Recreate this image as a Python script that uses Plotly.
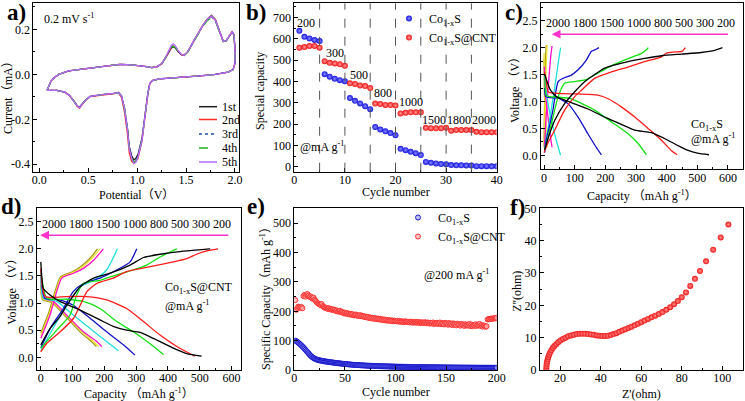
import plotly.graph_objects as go

W, H = 745, 401
SERIF = "Liberation Serif, Noto Sans CJK SC, serif"

# ---------------- (a) CV curves ----------------
cv_voltage = [0.08, 0.12, 0.16, 0.20, 0.25, 0.30, 0.40, 0.50, 0.60, 0.70, 0.82, 0.90, 1.00, 1.06, 1.11,
              1.15, 1.20, 1.25, 1.29, 1.33, 1.35, 1.37, 1.39, 1.42, 1.45, 1.48, 1.52, 1.57, 1.62, 1.67,
              1.72, 1.76, 1.80, 1.84, 1.88, 1.91, 1.94, 1.97, 1.99, 2.00,
              2.00, 1.98, 1.93, 1.80, 1.67, 1.50, 1.33, 1.23, 1.16, 1.13, 1.11, 1.08, 1.05, 1.01, 0.985,
              0.965, 0.945, 0.92, 0.90, 0.87, 0.84, 0.81, 0.76, 0.62, 0.52, 0.47, 0.43, 0.41, 0.39, 0.36,
              0.31, 0.26, 0.18, 0.08]
cv_current_1st = [-0.071, -0.030, -0.012, 0.000, 0.008, 0.015, 0.021, 0.026, 0.031, 0.036, 0.044, 0.043, 0.040, 0.037, 0.033,
                  0.030, 0.033, 0.046, 0.072, 0.106, 0.118, 0.122, 0.117, 0.100, 0.088, 0.084, 0.101, 0.141, 0.180, 0.217,
                  0.247, 0.262, 0.243, 0.192, 0.147, 0.149, 0.170, 0.189, 0.176, 0.107,
                  0.050, 0.021, 0.010, 0.000, -0.006, -0.012, -0.016, -0.020, -0.027, -0.040, -0.082, -0.185, -0.282, -0.355, -0.375,
                  -0.380, -0.362, -0.322, -0.235, -0.148, -0.096, -0.081, -0.085, -0.091, -0.098, -0.115, -0.138, -0.146, -0.141, -0.121,
                  -0.094, -0.079, -0.071, -0.071]
cv_current_2nd = [-0.071, -0.030, -0.012, 0.000, 0.008, 0.015, 0.021, 0.026, 0.031, 0.036, 0.044, 0.043, 0.040, 0.037, 0.033,
                  0.030, 0.033, 0.047, 0.074, 0.109, 0.122, 0.126, 0.121, 0.103, 0.089, 0.085, 0.102, 0.142, 0.181, 0.217,
                  0.246, 0.259, 0.241, 0.191, 0.146, 0.150, 0.171, 0.190, 0.175, 0.107,
                  0.050, 0.021, 0.010, 0.000, -0.006, -0.012, -0.016, -0.020, -0.027, -0.041, -0.088, -0.195, -0.295, -0.372, -0.390,
                  -0.394, -0.388, -0.350, -0.262, -0.165, -0.102, -0.083, -0.086, -0.092, -0.099, -0.118, -0.143, -0.150, -0.144, -0.123,
                  -0.095, -0.079, -0.071, -0.071]
cv_current_3rd = [-0.071, -0.030, -0.012, 0.000, 0.008, 0.015, 0.021, 0.026, 0.031, 0.036, 0.044, 0.043, 0.040, 0.037, 0.033,
                  0.030, 0.033, 0.047, 0.074, 0.110, 0.124, 0.128, 0.123, 0.103, 0.089, 0.085, 0.102, 0.142, 0.180, 0.215,
                  0.243, 0.256, 0.238, 0.189, 0.146, 0.150, 0.171, 0.190, 0.175, 0.107,
                  0.050, 0.021, 0.010, 0.000, -0.006, -0.012, -0.016, -0.020, -0.027, -0.040, -0.084, -0.188, -0.287, -0.362, -0.385,
                  -0.388, -0.370, -0.328, -0.238, -0.149, -0.096, -0.081, -0.085, -0.091, -0.098, -0.116, -0.140, -0.147, -0.142, -0.122,
                  -0.094, -0.079, -0.071, -0.071]
cv_current_4th = [-0.071, -0.030, -0.012, 0.000, 0.008, 0.015, 0.021, 0.026, 0.031, 0.036, 0.044, 0.043, 0.040, 0.037, 0.033,
                  0.030, 0.033, 0.047, 0.073, 0.108, 0.121, 0.124, 0.120, 0.102, 0.088, 0.084, 0.101, 0.140, 0.178, 0.212,
                  0.240, 0.252, 0.236, 0.188, 0.145, 0.149, 0.170, 0.189, 0.175, 0.107,
                  0.050, 0.021, 0.010, 0.000, -0.006, -0.012, -0.016, -0.020, -0.027, -0.040, -0.085, -0.189, -0.289, -0.364, -0.387,
                  -0.390, -0.372, -0.329, -0.239, -0.150, -0.096, -0.081, -0.085, -0.091, -0.098, -0.116, -0.140, -0.148, -0.142, -0.122,
                  -0.094, -0.079, -0.071, -0.071]
cv_current_5th = [-0.071, -0.030, -0.012, 0.000, 0.008, 0.015, 0.021, 0.026, 0.031, 0.036, 0.044, 0.043, 0.040, 0.037, 0.033,
                  0.030, 0.033, 0.048, 0.075, 0.112, 0.130, 0.136, 0.128, 0.105, 0.090, 0.085, 0.103, 0.143, 0.181, 0.217,
                  0.246, 0.259, 0.240, 0.190, 0.146, 0.150, 0.172, 0.190, 0.175, 0.107,
                  0.050, 0.021, 0.010, 0.000, -0.006, -0.012, -0.016, -0.020, -0.027, -0.040, -0.085, -0.190, -0.290, -0.367, -0.392,
                  -0.397, -0.375, -0.330, -0.240, -0.150, -0.096, -0.081, -0.085, -0.091, -0.098, -0.116, -0.140, -0.148, -0.142, -0.122,
                  -0.094, -0.079, -0.071, -0.071]
cv_cycle_names = ["1st", "2nd", "3rd", "4th", "5th"]
cv_colors = ["#222222", "#ff2a2a", "#1f4fa8", "#22b022", "#b36bff"]
cv_dashes = ["solid", "solid", "dot", "dash", "solid"]

# ---------------- (b) rate capability ----------------
b_cycles = list(range(1, 41))
b_cos = [637, 609, 601, 594, 589, 434, 422, 412, 406, 401,
         322, 309, 297, 284, 270, 186, 175, 166, 158, 148,
         84, 78, 70, 64, 55, 23, 19, 16, 13, 12,
         8, 7, 7, 6, 6, 3, 3, 3, 2, 2]
b_cnt = [558, 561, 566, 566, 558, 495, 487, 484, 480, 473,
         391, 388, 381, 378, 369, 296, 294, 290, 289, 287,
         250, 253, 255, 255, 255, 183, 181, 180, 181, 183,
         169, 172, 172, 172, 172, 164, 162, 162, 162, 162]
b_rate_boundaries = [5, 10, 15, 20, 25, 30, 35]
b_rate_text = ["200", "300", "500", "800", "1000", "1500", "1800", "2000"]
b_rate_text_x = [2.4, 8.1, 12.7, 17.6, 23.0, 27.6, 32.6, 37.4]
b_rate_text_y = [675, 531, 430, 344, 305, 219, 219, 219]

# ---------------- (c) Co1-xS charge/discharge ----------------
rates = [200, 300, 500, 800, 1000, 1500, 1800, 2000]
rate_colors = ["#000000", "#ff1a1a", "#11e011", "#1010c8", "#20e0e0", "#ff10c8", "#f0e030", "#a09a10"]
c_cap_200 = [2, 8, 20, 40, 89, 143, 198, 250, 296, 350, 404, 440, 470, 500, 538, None,
             2, 15, 35, 67, 100, 133, 170, 198, 274, 328, 383, 448, 513, 557, 582]
c_volt_200 = [1.50, 1.40, 1.22, 1.09, 0.98, 0.86, 0.71, 0.58, 0.47, 0.42, 0.28, 0.17, 0.09, 0.04, 0.01, None,
              0.10, 0.35, 0.65, 0.96, 1.18, 1.37, 1.52, 1.62, 1.74, 1.80, 1.85, 1.88, 1.91, 1.95, 2.00]
c_cap_300 = [2, 7, 13, 46, 111, 176, 209, 252, 296, 339, 383, 415, 434, None,
             0, 10, 35, 67, 100, 122, 165, 220, 274, 328, 383, 399, 426, 450, 461]
c_volt_300 = [1.55, 1.40, 1.18, 1.15, 1.14, 1.12, 1.05, 0.90, 0.71, 0.50, 0.28, 0.09, 0.01, None,
              0.05, 0.20, 0.47, 0.84, 1.09, 1.21, 1.43, 1.55, 1.64, 1.74, 1.83, 1.90, 1.92, 1.93, 2.00]
c_cap_500 = [3, 7, 18, 46, 89, 120, 165, 220, 274, 307, 334, None,
             2, 24, 46, 67, 100, 133, 165, 208, 250, 290, 317, 334, 340]
c_volt_500 = [1.50, 1.12, 1.09, 1.08, 1.05, 0.97, 0.84, 0.62, 0.40, 0.22, 0.01, None,
              0.09, 0.59, 1.09, 1.34, 1.37, 1.40, 1.49, 1.63, 1.74, 1.83, 1.89, 1.96, 2.00]
c_cap_800 = [2, 5, 20, 46, 78, 111, 143, 170, 187, None,
             2, 7, 18, 29, 46, 62, 89, 111, 138, 154, 170, 179]
c_volt_800 = [1.25, 1.09, 1.07, 1.06, 0.96, 0.71, 0.40, 0.15, 0.01, None,
              0.05, 0.28, 0.55, 0.84, 1.37, 1.43, 1.49, 1.59, 1.77, 1.93, 1.97, 2.00]
c_cap_1000 = [2, 5, 13, 29, 46, 54, None, 2, 8, 18, 35, 46, 54]
c_volt_1000 = [1.50, 1.30, 0.96, 0.53, 0.15, 0.00, None, 0.09, 0.35, 0.65, 1.27, 1.71, 2.00]
c_cap_1500 = [1, 3, 8, 15, 22, 26, None, 1, 5, 10, 16, 22, 26]
c_volt_1500 = [1.65, 1.25, 0.95, 0.60, 0.30, 0.15, None, 0.15, 0.55, 1.00, 1.45, 1.85, 2.03]
c_cap_1800 = [0, 2, 4, 7, 10, None, 0, 2, 4, 7, 10]
c_volt_1800 = [1.90, 1.30, 0.90, 0.45, 0.15, None, 0.15, 0.60, 1.20, 1.70, 2.05]
c_cap_2000 = [0, 1, 3, 5, 7, None, 0, 1, 3, 5, 7]
c_volt_2000 = [1.80, 1.20, 0.80, 0.40, 0.20, None, 0.20, 0.70, 1.30, 1.80, 2.05]
c_caps = [c_cap_200, c_cap_300, c_cap_500, c_cap_800, c_cap_1000, c_cap_1500, c_cap_1800, c_cap_2000]
c_volts = [c_volt_200, c_volt_300, c_volt_500, c_volt_800, c_volt_1000, c_volt_1500, c_volt_1800, c_volt_2000]
c_arrow_cap = [605, 25]

# ---------------- (d) Co1-xS@CNT charge/discharge ----------------
d_cap_200 = [0, 3, 8, 29, 60, 124, 186, 228, 270, 312, 354, 417, 459, 506, None,
             0, 29, 60, 82, 124, 166, 218, 281, 323, 375, 438, 533]
d_volt_200 = [1.76, 1.50, 1.27, 1.15, 1.03, 0.87, 0.69, 0.57, 0.50, 0.46, 0.35, 0.17, 0.07, 0.02, None,
              0.23, 0.53, 0.75, 0.96, 1.30, 1.46, 1.55, 1.70, 1.84, 1.90, 1.95, 2.00]
d_cap_300 = [0, 14, 81, 144, 207, 270, 323, 375, 428, 485, None,
             0, 19, 61, 103, 124, 145, 176, 228, 270, 344, 417, 459, 490, 522, 558]
d_volt_300 = [1.64, 1.12, 1.12, 1.12, 1.06, 0.90, 0.66, 0.41, 0.20, 0.02, None,
              0.10, 0.26, 0.47, 0.72, 0.96, 1.21, 1.36, 1.46, 1.58, 1.67, 1.76, 1.82, 1.90, 1.96, 2.00]
d_cap_500 = [3, 19, 81, 134, 186, 239, 291, 344, 386, None,
             0, 50, 92, 113, 134, 186, 239, 291, 333, 375, 428]
d_volt_500 = [1.46, 1.09, 1.07, 1.03, 0.90, 0.66, 0.47, 0.25, 0.05, None,
              0.17, 0.50, 0.78, 1.15, 1.36, 1.42, 1.52, 1.61, 1.70, 1.85, 2.00]
d_cap_800 = [3, 13, 60, 102, 155, 207, 260, 296, None,
             0, 29, 71, 102, 134, 186, 239, 281, 302]
d_volt_800 = [1.33, 1.09, 1.06, 0.96, 0.72, 0.47, 0.23, 0.04, None,
              0.17, 0.53, 0.90, 1.21, 1.36, 1.46, 1.61, 1.76, 2.00]
d_cap_1000 = [0, 8, 50, 102, 155, 207, 244, None, 0, 40, 81, 124, 166, 207, 241]
d_volt_1000 = [1.58, 1.09, 1.03, 0.78, 0.53, 0.29, 0.12, None, 0.12, 0.55, 0.95, 1.30, 1.42, 1.61, 2.00]
d_cap_1500 = [0, 8, 40, 81, 134, 176, 192, None, 0, 29, 50, 66, 103, 134, 166, 197]
d_volt_1500 = [1.52, 1.09, 1.03, 0.78, 0.47, 0.29, 0.20, None, 0.35, 0.78, 1.21, 1.46, 1.55, 1.64, 1.79, 2.00]
d_cap_1800 = [0, 6, 38, 78, 130, 170, 182, None, 0, 27, 48, 64, 100, 130, 160, 186]
d_volt_1800 = [1.55, 1.08, 1.02, 0.78, 0.47, 0.27, 0.20, None, 0.40, 0.80, 1.22, 1.47, 1.56, 1.66, 1.82, 2.00]
d_cap_2000 = [0, 5, 35, 75, 125, 165, 175, None, 0, 25, 46, 62, 97, 127, 157, 178]
d_volt_2000 = [1.60, 1.07, 1.01, 0.77, 0.46, 0.26, 0.20, None, 0.45, 0.82, 1.24, 1.48, 1.57, 1.68, 1.84, 2.00]
d_caps = [d_cap_200, d_cap_300, d_cap_500, d_cap_800, d_cap_1000, d_cap_1500, d_cap_1800, d_cap_2000]
d_volts = [d_volt_200, d_volt_300, d_volt_500, d_volt_800, d_volt_1000, d_volt_1500, d_volt_1800, d_volt_2000]
d_arrow_cap = [595, -2]
rate_label_text = "2000 1800 1500 1000 800 500 300 200"

# ---------------- (e) cycling at 200 mA/g ----------------
e_cycles = list(range(1, 201))
e_cnt = [238, 205, 211, 216, 214, 212, 215, 210, 252, 256,
         250, 257, 259, 253, 249, 251, 246, 243, 247, 240,
         236, 232, 228, 226, 223, 221, 225, 218, 215, 212,
         213, 210, 208, 211, 207, 208, 205, 207, 204, 205,
         201, 203, 199, 200, 202, 197, 198, 195, 193, 196,
         192, 194, 190, 192, 189, 191, 188, 190, 186, 187,
         189, 185, 186, 184, 187, 183, 185, 182, 183, 180,
         182, 179, 181, 177, 179, 176, 178, 175, 177, 174,
         176, 173, 175, 172, 174, 171, 173, 170, 172, 169,
         171, 168, 170, 168, 169, 167, 169, 166, 168, 167,
         166, 168, 165, 167, 164, 166, 165, 163, 166, 164,
         165, 163, 164, 162, 165, 163, 161, 164, 162, 163,
         161, 164, 162, 160, 163, 161, 162, 160, 163, 161,
         159, 162, 160, 158, 161, 159, 162, 157, 160, 158,
         161, 157, 159, 162, 156, 160, 158, 155, 161, 157,
         159, 154, 160, 156, 158, 153, 159, 155, 157, 152,
         158, 154, 156, 151, 157, 153, 155, 150, 156, 152,
         154, 151, 157, 150, 155, 149, 153, 151, 156, 150,
         154, 152, 157, 150, 153, 148, 152, 150, 147, 149,
         172, 174, 173, 175, 174, 176, 175, 177, 176, 178]
e_cos = [100, 98, 96, 93, 90, 87, 84, 80, 77, 73,
         69, 65, 61, 57, 53, 49, 46, 43, 41, 39,
         37, 36, 35, 34, 33, 32, 31.5, 31, 30, 29.5,
         29, 28.5, 28, 27.5, 27, 26.5, 26, 25.5, 25, 24.5,
         24, 23.6, 23.2, 22.8, 22.4, 22, 21.6, 21.2, 20.8, 20.4,
         20, 19.7, 19.4, 19.1, 18.8, 18.5, 18.2, 17.9, 17.6, 17.3,
         17, 16.8, 16.6, 16.4, 16.2, 16, 15.8, 15.6, 15.4, 15.2,
         15, 14.8, 14.7, 14.5, 14.4, 14.2, 14.1, 13.9, 13.8, 13.6,
         13.5, 13.4, 13.2, 13.1, 13, 12.9, 12.8, 12.6, 12.5, 12.4,
         12.3, 12.2, 12.1, 12, 11.9, 11.8, 11.7, 11.6, 11.5, 11.4,
         11.3, 11.2, 11.1, 11, 11, 10.9, 10.8, 10.7, 10.7, 10.6,
         10.5, 10.5, 10.4, 10.3, 10.3, 10.2, 10.1, 10.1, 10, 10,
         9.9, 9.9, 9.8, 9.8, 9.7, 9.7, 9.6, 9.6, 9.5, 9.5,
         9.4, 9.4, 9.3, 9.3, 9.2, 9.2, 9.2, 9.1, 9.1, 9,
         9, 9, 8.9, 8.9, 8.9, 8.8, 8.8, 8.8, 8.7, 8.7,
         8.7, 8.6, 8.6, 8.6, 8.5, 8.5, 8.5, 8.4, 8.4, 8.4,
         8.3, 8.3, 8.3, 8.3, 8.2, 8.2, 8.2, 8.2, 8.1, 8.1,
         8.1, 8.1, 8, 8, 8, 8, 7.9, 7.9, 7.9, 7.9,
         7.8, 7.8, 7.8, 7.8, 7.8, 7.7, 7.7, 7.7, 7.7, 7.7,
         7.6, 7.6, 7.6, 7.6, 7.6, 7.5, 7.5, 7.5, 7.5, 7.5]

# ---------------- (f) Nyquist ----------------
f_zre = [13.2, 13.3, 13.4, 13.6, 13.9, 14.2, 14.6, 15.1, 15.7, 16.4, 17.2, 18.1, 19.1, 20.2, 21.4,
         22.7, 24.0, 25.4, 26.8, 28.2, 29.6, 31.0, 32.4, 33.8, 35.2, 36.6, 38.0, 39.4, 40.8, 42.2,
         43.6, 45.0, 46.4, 47.8, 49.2, 50.7, 52.2, 53.7, 55.2, 56.8, 58.4, 60.0, 61.7, 63.4, 65.1,
         66.9, 68.7, 70.5, 72.4, 74.3, 76.2, 78.1, 80.0, 82.1, 84.2, 86.5, 89.0, 92.0, 95.5, 99.2, 103.0]
f_zim = [0.5, 1.2, 1.9, 2.6, 3.3, 4.0, 4.7, 5.4, 6.1, 6.8, 7.4, 8.0, 8.6, 9.1, 9.6,
         10.0, 10.4, 10.7, 10.9, 11.1, 11.2, 11.2, 11.2, 11.1, 11.0, 10.9, 10.7, 10.6, 10.5, 10.5,
         10.6, 10.8, 11.1, 11.4, 11.8, 12.2, 12.6, 13.0, 13.4, 13.8, 14.3, 14.8, 15.3, 15.8, 16.3,
         16.8, 17.3, 17.9, 18.6, 19.4, 20.3, 21.3, 22.5, 24.0, 26.0, 28.2, 30.6, 33.6, 37.2, 41.0, 45.0]

# ---------------- figure ----------------
fig = go.Figure()

for name, cur, col, dash in zip(cv_cycle_names,
                                [cv_current_1st, cv_current_2nd, cv_current_3rd, cv_current_4th, cv_current_5th],
                                cv_colors, cv_dashes):
    fig.add_trace(go.Scatter(x=cv_voltage, y=cur, mode="lines", name=name, showlegend=False,
                             line=dict(color=col, width=1.3, dash=dash), xaxis="x", yaxis="y"))

fig.add_trace(go.Scatter(x=b_cycles, y=b_cos, mode="markers", name="Co<sub>1-x</sub>S",
                         marker=dict(size=6, color="#1515e0", gradient=dict(type="radial", color="#8a8aff")),
                         xaxis="x2", yaxis="y2", legend="legend"))
fig.add_trace(go.Scatter(x=b_cycles, y=b_cnt, mode="markers", name="Co<sub>1-x</sub>S@CNT",
                         marker=dict(size=6, color="#f01515", gradient=dict(type="radial", color="#ff9a9a")),
                         xaxis="x2", yaxis="y2", legend="legend"))

for cap, volt, col in zip(c_caps[::-1], c_volts[::-1], rate_colors[::-1]):
    fig.add_trace(go.Scatter(x=cap, y=volt, mode="lines", showlegend=False, connectgaps=False,
                             line=dict(color=col, width=1.3, shape="spline", smoothing=0.6),
                             xaxis="x3", yaxis="y3"))
for cap, volt, col in zip(d_caps[::-1], d_volts[::-1], rate_colors[::-1]):
    fig.add_trace(go.Scatter(x=cap, y=volt, mode="lines", showlegend=False, connectgaps=False,
                             line=dict(color=col, width=1.3, shape="spline", smoothing=0.6),
                             xaxis="x4", yaxis="y4"))

fig.add_trace(go.Scatter(x=e_cycles, y=e_cos, mode="markers", name="Co<sub>1-x</sub>S",
                         marker=dict(size=5, color="rgba(150,150,255,0.6)", line=dict(color="#1a1acc", width=1)),
                         xaxis="x5", yaxis="y5", legend="legend2"))
fig.add_trace(go.Scatter(x=e_cycles, y=e_cnt, mode="markers", name="Co<sub>1-x</sub>S@CNT",
                         marker=dict(size=5, color="rgba(255,170,170,0.7)", line=dict(color="#ff3030", width=1)),
                         xaxis="x5", yaxis="y5", legend="legend2"))

fig.add_trace(go.Scatter(x=f_zre, y=f_zim, mode="markers", showlegend=False,
                         marker=dict(size=6, color="#f01818", gradient=dict(type="radial", color="#ff9090")),
                         xaxis="x6", yaxis="y6"))

# frame boxes in pixels: left, top, right, bottom
boxes = {
    "": (33.3, 3.3, 239.3, 171.7),
    "2": (294.3, 3.3, 496.7, 171.7),
    "3": (541, 3.3, 743, 169.3),
    "4": (37, 208.3, 241, 370),
    "5": (294.3, 208.3, 496.7, 370),
    "6": (540, 208.3, 743, 370),
}
axis_specs = {
    "": dict(xr=[-0.061, 2.044], yr=[-0.433, 0.316],
             xt=[0.0, 0.5, 1.0, 1.5, 2.0], xtt=["0.0", "0.5", "1.0", "1.5", "2.0"],
             yt=[-0.4, -0.2, 0.0, 0.2], ytt=["-0.4", "-0.2", "0.0", "0.2"], xm=0.25, ym=0.1),
    "2": dict(xr=[0, 40], yr=[-23, 766],
              xt=[0, 10, 20, 30, 40], xtt=["0", "10", "20", "30", "40"],
              yt=[0, 100, 200, 300, 400, 500, 600, 700], ytt=["0", "100", "200", "300", "400", "500", "600", "700"],
              xm=5, ym=50),
    "3": dict(xr=[-10, 649], yr=[-0.26, 2.824],
              xt=[0, 100, 200, 300, 400, 500, 600], xtt=["0", "100", "200", "300", "400", "500", "600"],
              yt=[0, 0.5, 1.0, 1.5, 2.0, 2.5], ytt=["0.0", "0.5", "1.0", "1.5", "2.0", "2.5"], xm=50, ym=0.25),
    "4": dict(xr=[-12, 630], yr=[-0.234, 2.747],
              xt=[0, 100, 200, 300, 400, 500, 600], xtt=["0", "100", "200", "300", "400", "500", "600"],
              yt=[0, 0.5, 1.0, 1.5, 2.0, 2.5], ytt=["0.0", "0.5", "1.0", "1.5", "2.0", "2.5"], xm=50, ym=0.25),
    "5": dict(xr=[0, 200], yr=[0, 551],
              xt=[0, 50, 100, 150, 200], xtt=["0", "50", "100", "150", "200"],
              yt=[0, 100, 200, 300, 400, 500], ytt=["0", "100", "200", "300", "400", "500"], xm=25, ym=50),
    "6": dict(xr=[10.1, 110.2], yr=[0, 50],
              xt=[20, 40, 60, 80, 100], xtt=["20", "40", "60", "80", "100"],
              yt=[0, 10, 20, 30, 40, 50], ytt=["0", "10", "20", "30", "40", "50"], xm=10, ym=5),
}
# axis titles: text, centre x px, centre y px, angle
axis_titles = [
    ("Potential（V）", 136, 195, 0), ("Current（mA）", 8, 95, -90),
    ("Cycle number", 395.5, 192, 0), ("Special capacity", 260, 91, -90),
    ("Capacity （mAh g<sup>-1</sup>）", 642, 195, 0), ("Voltage （V）", 515, 87, -90),
    ("Capacity （mAh g<sup>-1</sup>）", 139, 393.5, 0), ("Voltage （V）", 11.7, 289, -90),
    ("Cycle number", 395.5, 391.5, 0), ("Specific Capacity（mAh g<sup>-1</sup>）", 265, 296, -90),
    ("Z'(ohm)", 641.5, 393.5, 0), ("Z''(ohm)", 516.7, 291, -90),
]

tickfont = dict(family=SERIF, size=12, color="black")
layout = dict(width=W, height=H, margin=dict(l=0, r=0, t=0, b=0),
              paper_bgcolor="white", plot_bgcolor="white",
              font=dict(family=SERIF, size=12, color="black"))
for k, (l, t, r, b) in boxes.items():
    s = axis_specs[k]
    common = dict(showline=True, linecolor="black", linewidth=1, mirror=True, ticks="inside", ticklen=4,
                  tickcolor="black", tickwidth=1, showgrid=False, zeroline=False, tickfont=tickfont,
                  tickmode="array", automargin=False)
    layout["xaxis" + k] = dict(common, domain=[l / W, r / W], range=s["xr"], tickvals=s["xt"], ticktext=s["xtt"],
                               anchor="y" + k, ticklabelstandoff=-3,
                               minor=dict(ticks="inside", ticklen=2, tickcolor="black", dtick=s["xm"], tick0=0))
    layout["yaxis" + k] = dict(common, domain=[1 - b / H, 1 - t / H], range=s["yr"], tickvals=s["yt"], ticktext=s["ytt"],
                               anchor="x" + k,
                               minor=dict(ticks="inside", ticklen=2, tickcolor="black", dtick=s["ym"], tick0=0))

layout["legend"] = dict(x=389 / W, y=1 - 4 / H, xanchor="left", yanchor="top", bgcolor="rgba(0,0,0,0)",
                        font=dict(family=SERIF, size=12, color="black"), tracegroupgap=0)
layout["legend2"] = dict(x=398 / W, y=1 - 203 / H, xanchor="left", yanchor="top", bgcolor="rgba(0,0,0,0)",
                         font=dict(family=SERIF, size=12, color="black"), tracegroupgap=0)

shapes = []
for xb in b_rate_boundaries:
    shapes.append(dict(type="line", xref="x2", yref="y2 domain", x0=xb, x1=xb, y0=0, y1=1,
                       line=dict(color="#555555", width=1, dash="dash")))

annotations = []
for txt, px, py, ang in axis_titles:
    annotations.append(dict(text=txt, xref="paper", yref="paper", x=px / W, y=1 - py / H, textangle=ang,
                            xanchor="center", yanchor="middle", showarrow=False,
                            font=dict(family=SERIF, size=12, color="black")))

# manual legend for panel (a)
a_leg_y = [106.7, 119.5, 134.0, 148.0, 162.0]
for name, col, dash, yy in zip(cv_cycle_names, cv_colors, cv_dashes, a_leg_y):
    shapes.append(dict(type="line", xref="paper", yref="paper", x0=199 / W, x1=217 / W,
                       y0=1 - yy / H, y1=1 - yy / H, line=dict(color=col, width=1.5, dash=dash)))
    annotations.append(dict(text=name, xref="paper", yref="paper", x=220 / W, y=1 - yy / H,
                            xanchor="left", yanchor="middle", showarrow=False,
                            font=dict(family=SERIF, size=12, color="black")))

annotations.append(dict(text="0.2 mV s<sup>-1</sup>", xref="x", yref="y", x=0.03, y=0.25,
                        xanchor="left", yanchor="middle", showarrow=False,
                        font=dict(family=SERIF, size=12, color="black")))

for txt, xx, yy in zip(b_rate_text, b_rate_text_x, b_rate_text_y):
    annotations.append(dict(text=txt, xref="x2", yref="y2", x=xx, y=yy, showarrow=False,
                            xanchor="center", yanchor="middle", font=dict(family=SERIF, size=12, color="black")))
annotations.append(dict(text="@mA g<sup>-1</sup>", xref="x2", yref="y2", x=5.5, y=94, showarrow=False,
                        font=dict(family=SERIF, size=12, color="black")))

# arrows and rate labels in (c) and (d)
for ax_k, arrow_cap, label_x, label_y in (("3", c_arrow_cap, 316, 2.45), ("4", d_arrow_cap, 301, 2.46)):
    annotations.append(dict(text="", xref="x" + ax_k, yref="y" + ax_k, axref="x" + ax_k, ayref="y" + ax_k,
                            x=arrow_cap[1], y=2.25, ax=arrow_cap[0], ay=2.25, showarrow=True,
                            arrowhead=2, arrowsize=1.1, arrowwidth=1.6, arrowcolor="#ff33cc"))
    annotations.append(dict(text=rate_label_text, xref="x" + ax_k, yref="y" + ax_k, x=label_x, y=label_y,
                            showarrow=False, font=dict(family=SERIF, size=12, color="black")))

annotations.append(dict(text="Co<sub>1-x</sub>S", xref="x3", yref="y3", x=474, y=0.56, xanchor="left",
                        showarrow=False, font=dict(family=SERIF, size=12, color="black")))
annotations.append(dict(text="@mA g<sup>-1</sup>", xref="x3", yref="y3", x=474, y=0.32, xanchor="left",
                        showarrow=False, font=dict(family=SERIF, size=12, color="black")))
annotations.append(dict(text="Co<sub>1-x</sub>S@CNT", xref="x4", yref="y4", x=385, y=1.27, xanchor="left",
                        showarrow=False, font=dict(family=SERIF, size=12, color="black")))
annotations.append(dict(text="@mA g<sup>-1</sup>", xref="x4", yref="y4", x=385, y=0.96, xanchor="left",
                        showarrow=False, font=dict(family=SERIF, size=12, color="black")))
annotations.append(dict(text="@200 mA g<sup>-1</sup>", xref="x5", yref="y5", x=160, y=324,
                        showarrow=False, font=dict(family=SERIF, size=12, color="black")))

panel_labels = ["a)", "b)", "c)", "d)", "e)", "f)"]
panel_label_px = [(16, 13), (256, 12), (514, 12.5), (11, 206), (256, 206), (517, 207.5)]
for lab, (px, py) in zip(panel_labels, panel_label_px):
    annotations.append(dict(text="<b>" + lab + "</b>", xref="paper", yref="paper", x=px / W, y=1 - py / H,
                            xanchor="center", yanchor="middle", showarrow=False,
                            font=dict(family=SERIF, size=23, color="black")))

layout["shapes"] = shapes
layout["annotations"] = annotations
fig.update_layout(**layout)
fig.write_html("out.html", config={"displayModeBar": False},
               post_script="document.body.style.margin='0px';document.documentElement.style.overflow='hidden';")
